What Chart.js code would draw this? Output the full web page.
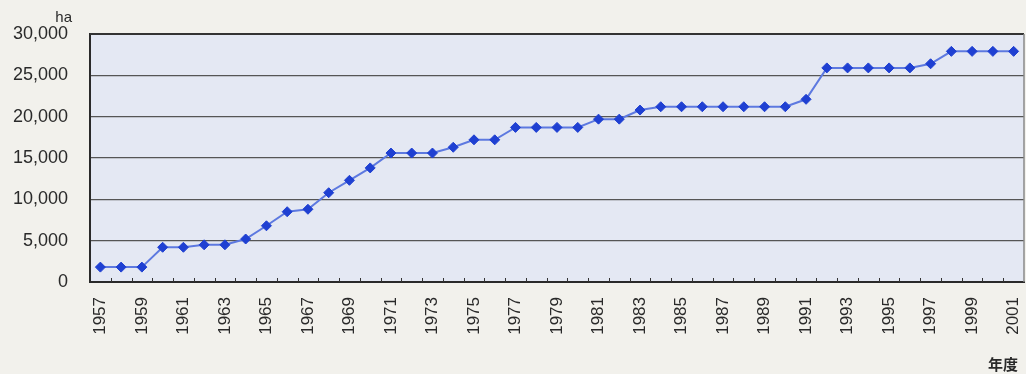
<!DOCTYPE html>
<html>
<head>
<meta charset="utf-8">
<script src="https://cdn.jsdelivr.net/npm/chart.js@4/dist/chart.umd.min.js"></script>
<style>
  html, body { margin: 0; padding: 0; background: #f2f1ec; }
  #wrap { position: relative; width: 1026px; height: 374px; }
</style>
</head>
<body>
<div id="wrap"><canvas id="c" width="1026" height="374"></canvas></div>
<script>
// Fiscal years 1957–2001
const years = [
  '1957','1958','1959','1960','1961','1962','1963','1964','1965','1966',
  '1967','1968','1969','1970','1971','1972','1973','1974','1975','1976',
  '1977','1978','1979','1980','1981','1982','1983','1984','1985','1986',
  '1987','1988','1989','1990','1991','1992','1993','1994','1995','1996',
  '1997','1998','1999','2000','2001'
];

// Cumulative area (ha)
const areaHa = [
  1800, 1800, 1800, 4200, 4200, 4500, 4500, 5200, 6800, 8500,
  8800, 10800, 12300, 13800, 15600, 15600, 15600, 16300, 17200, 17200,
  18700, 18700, 18700, 18700, 19700, 19700, 20800, 21200, 21200, 21200,
  21200, 21200, 21200, 21200, 22100, 25900, 25900, 25900, 25900, 25900,
  26400, 27900, 27900, 27900, 27900
];

const yTicks = [0, 5000, 10000, 15000, 20000, 25000, 30000];
const unitLabel = 'ha';
const xAxisLabel = '年度';

// Plot background, outer frame, inner tick marks and axis captions
const decorations = {
  id: 'decorations',
  beforeDraw(chart) {
    const { ctx, chartArea: a } = chart;
    ctx.save();
    ctx.fillStyle = '#e4e8f3';
    ctx.fillRect(a.left, a.top, a.right - a.left, a.bottom - a.top);
    ctx.restore();
  },
  afterDraw(chart) {
    const { ctx, chartArea: a, scales } = chart;
    const x = scales.x;
    ctx.save();
    // top and right frame
    ctx.strokeStyle = '#333';
    ctx.lineWidth = 2;
    ctx.beginPath();
    ctx.moveTo(a.left, a.top);
    ctx.lineTo(a.right, a.top);
    ctx.stroke();
    ctx.strokeStyle = '#8a8a8a';
    ctx.lineWidth = 1.5;
    ctx.beginPath();
    ctx.moveTo(a.right, a.top);
    ctx.lineTo(a.right, a.bottom);
    ctx.stroke();
    // short tick marks between categories, pointing into the plot
    const step = x.getPixelForValue(1) - x.getPixelForValue(0);
    ctx.strokeStyle = '#333';
    ctx.lineWidth = 1;
    ctx.beginPath();
    for (let i = 0; i < years.length - 1; i++) {
      const px = Math.round(x.getPixelForValue(i) + step / 2) + 0.5;
      ctx.moveTo(px, a.bottom);
      ctx.lineTo(px, a.bottom - 4);
    }
    ctx.stroke();
    // captions
    ctx.fillStyle = '#2a2a2a';
    ctx.font = '15px "Liberation Sans", Arial, sans-serif';
    ctx.textAlign = 'right';
    ctx.textBaseline = 'alphabetic';
    ctx.fillText(unitLabel, a.left - 18, 22);
    ctx.font = 'bold 15px "Noto Sans CJK JP", sans-serif';
    ctx.textAlign = 'right';
    ctx.fillText(xAxisLabel, a.right - 6, 370);
    ctx.restore();
  }
};

new Chart(document.getElementById('c'), {
  type: 'line',
  data: {
    labels: years,
    datasets: [{
      data: areaHa,
      borderColor: '#5d79e0',
      borderWidth: 2,
      backgroundColor: '#1f40d2',
      pointStyle: 'rectRot',
      pointRadius: 5,
      pointBorderColor: '#1f40d2',
      pointBorderWidth: 1,
      pointBackgroundColor: '#1f40d2',
      tension: 0,
      fill: false,
      clip: false
    }]
  },
  options: {
    responsive: false,
    animation: false,
    devicePixelRatio: 1,
    layout: { autoPadding: false, padding: { left: 0, right: 2, top: 34, bottom: 0 } },
    plugins: {
      legend: { display: false },
      tooltip: { enabled: false }
    },
    scales: {
      x: {
        type: 'category',
        offset: true,
        grid: { display: false, drawTicks: false },
        border: { display: true, color: '#2a2a2a', width: 2 },
        ticks: {
          autoSkip: false,
          minRotation: 90,
          maxRotation: 90,
          padding: 15,
          color: '#2a2a2a',
          font: { family: '"Liberation Sans", Arial, sans-serif', size: 17 },
          callback: (v, i) => (i % 2 === 0 ? years[i] : '')
        },
        afterFit: (s) => { s.height = 92; s.paddingLeft = 0; s.paddingRight = 0; }
      },
      y: {
        min: 0,
        max: 30000,
        afterBuildTicks: (s) => { s.ticks = yTicks.map(v => ({ value: v })); },
        grid: { color: '#555', lineWidth: 1.2, drawTicks: false },
        border: { display: true, color: '#2a2a2a', width: 2 },
        ticks: {
          padding: 22,
          color: '#2a2a2a',
          font: { family: '"Liberation Sans", Arial, sans-serif', size: 18 },
          callback: (v) => v.toLocaleString('en-US')
        },
        afterFit: (s) => { s.width = 90; s.paddingTop = 0; s.paddingBottom = 0; }
      }
    }
  },
  plugins: [decorations]
});
</script>
</body>
</html>
